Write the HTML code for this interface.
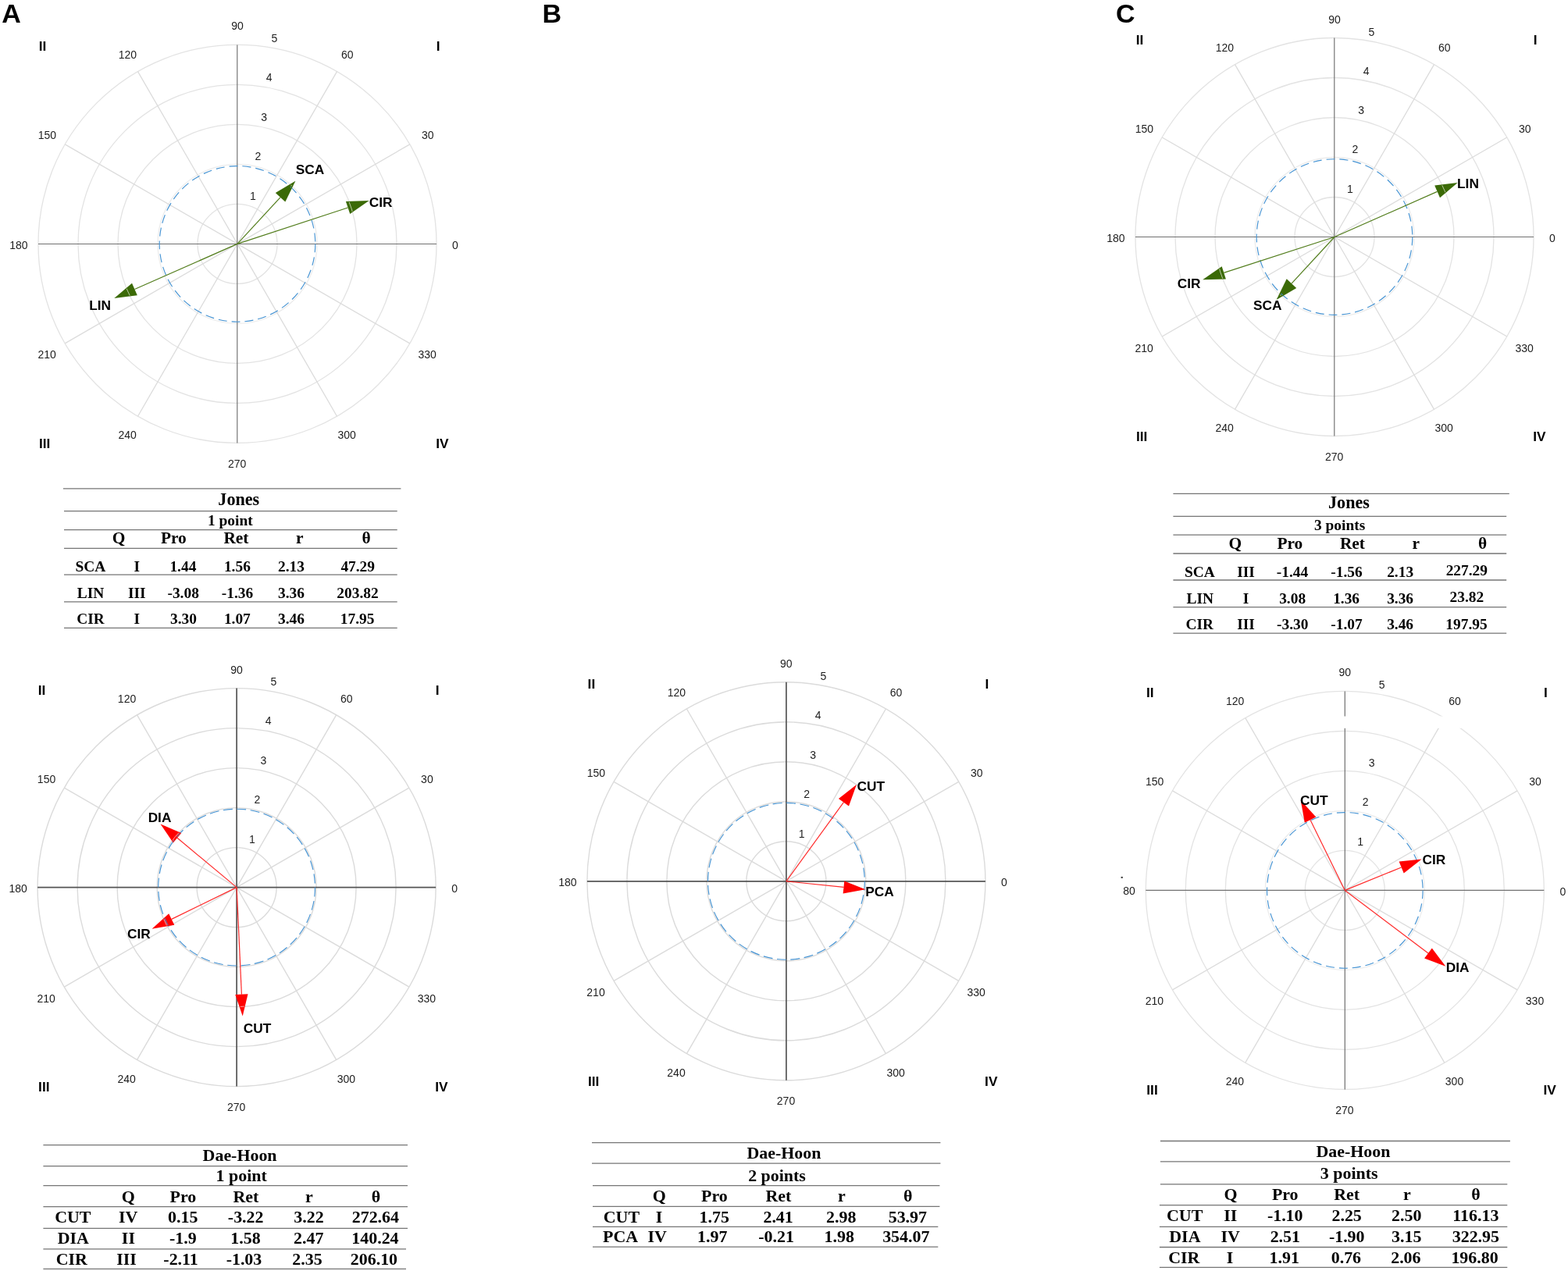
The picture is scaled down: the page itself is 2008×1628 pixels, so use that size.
<!DOCTYPE html>
<html lang="en"><head><meta charset="utf-8"><title>Polar coordinate maps</title>
<style>html,body{margin:0;padding:0;background:#fff}body{width:2008px;height:1628px;overflow:hidden}svg{display:block}.sa{font-family:"Liberation Sans", Arial, Helvetica, sans-serif}.se{font-family:"Liberation Serif", "Times New Roman", Times, serif}</style></head><body>
<svg width="2008" height="1628" viewBox="0 0 2008 1628">
<rect width="2008" height="1628" fill="#fff"/>
<text class="sa" x="2.15" y="29.00" font-size="34" font-weight="bold" fill="#000">A</text>
<text class="sa" x="694.56" y="28.90" font-size="34" font-weight="bold" fill="#000">B</text>
<text class="sa" x="1428.99" y="28.90" font-size="34" font-weight="bold" fill="#000">C</text>
<g>
<circle cx="304.0" cy="312.4" r="51.0" fill="none" stroke="#e3e3e3" stroke-width="1.3"/>
<circle cx="304.0" cy="312.4" r="102.0" fill="none" stroke="#ececec" stroke-width="1.3"/>
<circle cx="304.0" cy="312.4" r="153.0" fill="none" stroke="#e3e3e3" stroke-width="1.3"/>
<circle cx="304.0" cy="312.4" r="204.0" fill="none" stroke="#e3e3e3" stroke-width="1.3"/>
<circle cx="304.0" cy="312.4" r="255.0" fill="none" stroke="#e3e3e3" stroke-width="1.3"/>
<line x1="304.0" y1="312.4" x2="524.8" y2="184.9" stroke="#dcdcdc" stroke-width="1.3"/>
<line x1="304.0" y1="312.4" x2="431.5" y2="91.6" stroke="#dcdcdc" stroke-width="1.3"/>
<line x1="304.0" y1="312.4" x2="176.5" y2="91.6" stroke="#dcdcdc" stroke-width="1.3"/>
<line x1="304.0" y1="312.4" x2="83.2" y2="184.9" stroke="#dcdcdc" stroke-width="1.3"/>
<line x1="304.0" y1="312.4" x2="83.2" y2="439.9" stroke="#dcdcdc" stroke-width="1.3"/>
<line x1="304.0" y1="312.4" x2="176.5" y2="533.2" stroke="#dcdcdc" stroke-width="1.3"/>
<line x1="304.0" y1="312.4" x2="431.5" y2="533.2" stroke="#dcdcdc" stroke-width="1.3"/>
<line x1="304.0" y1="312.4" x2="524.8" y2="439.9" stroke="#dcdcdc" stroke-width="1.3"/>
<line x1="49.0" y1="312.5" x2="559.0" y2="312.5" stroke="#707070" stroke-width="1.1"/>
<line x1="303.8" y1="57.39999999999998" x2="303.8" y2="567.4" stroke="#707070" stroke-width="1.15"/>
<circle cx="304.0" cy="312.4" r="99.8" fill="none" stroke="#4593d3" stroke-width="1.15" stroke-dasharray="11 6"/>
<text class="sa" x="296.16" y="37.92" font-size="14" fill="#1c1c1c">90</text>
<text class="sa" x="436.93" y="74.82" font-size="14" fill="#1c1c1c">60</text>
<text class="sa" x="151.76" y="74.82" font-size="14" fill="#1c1c1c">120</text>
<text class="sa" x="540.02" y="177.92" font-size="14" fill="#1c1c1c">30</text>
<text class="sa" x="48.76" y="177.92" font-size="14" fill="#1c1c1c">150</text>
<text class="sa" x="579.11" y="318.82" font-size="14" fill="#1c1c1c">0</text>
<text class="sa" x="12.31" y="318.82" font-size="14" fill="#1c1c1c">180</text>
<text class="sa" x="48.44" y="459.42" font-size="14" fill="#1c1c1c">210</text>
<text class="sa" x="535.53" y="459.42" font-size="14" fill="#1c1c1c">330</text>
<text class="sa" x="151.44" y="562.32" font-size="14" fill="#1c1c1c">240</text>
<text class="sa" x="432.53" y="562.32" font-size="14" fill="#1c1c1c">300</text>
<text class="sa" x="291.94" y="598.82" font-size="14" fill="#1c1c1c">270</text>
<text class="sa" x="347.52" y="54.15" font-size="14" fill="#1c1c1c">5</text>
<text class="sa" x="340.75" y="103.92" font-size="14" fill="#1c1c1c">4</text>
<text class="sa" x="334.35" y="154.82" font-size="14" fill="#1c1c1c">3</text>
<text class="sa" x="326.41" y="204.59" font-size="14" fill="#1c1c1c">2</text>
<text class="sa" x="319.92" y="255.62" font-size="14" fill="#1c1c1c">1</text>
<text class="sa" x="49.69" y="64.95" font-size="17.3" font-weight="bold" fill="#000">II</text>
<text class="sa" x="558.70" y="64.95" font-size="17.3" font-weight="bold" fill="#000">I</text>
<text class="sa" x="49.99" y="574.15" font-size="17.3" font-weight="bold" fill="#000">III</text>
<text class="sa" x="558.21" y="574.15" font-size="17.3" font-weight="bold" fill="#000">IV</text>
<line x1="304.0" y1="312.4" x2="359.0" y2="252.8" stroke="#527d1c" stroke-width="1.2"/>
<polygon points="378.4,231.8 365.3,258.6 352.8,247.0" fill="#3b6a06"/>
<clipPath id="ah1"><polygon points="375.6,234.8 364.9,257.4 353.9,247.3"/></clipPath>
<g clip-path="url(#ah1)" fill="none">
<circle cx="304.0" cy="312.4" r="102.0" stroke="#fff" stroke-opacity="0.72" stroke-width="0.9"/>
<circle cx="304.0" cy="312.4" r="99.8" stroke="#4593d3" stroke-opacity="0.8" stroke-width="1.15" stroke-dasharray="11 6"/>
</g>
<text class="sa" x="378.72" y="223.36" font-size="17.3" font-weight="bold" fill="#000">SCA</text>
<line x1="304.0" y1="312.4" x2="445.5" y2="266.0" stroke="#527d1c" stroke-width="1.2"/>
<polygon points="472.6,257.1 448.2,274.1 442.9,257.9" fill="#3b6a06"/>
<clipPath id="ah2"><polygon points="468.8,258.4 448.5,272.9 443.8,258.7"/></clipPath>
<g clip-path="url(#ah2)" fill="none">
<circle cx="304.0" cy="312.4" r="153.0" stroke="#fff" stroke-opacity="0.72" stroke-width="0.9"/>
<circle cx="304.0" cy="312.4" r="204.0" stroke="#fff" stroke-opacity="0.72" stroke-width="0.9"/>
</g>
<text class="sa" x="472.83" y="264.96" font-size="17.3" font-weight="bold" fill="#000">CIR</text>
<line x1="304.0" y1="312.4" x2="172.4" y2="370.5" stroke="#527d1c" stroke-width="1.2"/>
<polygon points="146.3,382.0 169.0,362.7 175.8,378.3" fill="#3b6a06"/>
<clipPath id="ah3"><polygon points="150.0,380.4 168.8,363.9 174.9,377.6"/></clipPath>
<g clip-path="url(#ah3)" fill="none">
<circle cx="304.0" cy="312.4" r="153.0" stroke="#fff" stroke-opacity="0.72" stroke-width="0.9"/>
</g>
<text class="sa" x="114.17" y="397.05" font-size="17.3" font-weight="bold" fill="#000">LIN</text>
</g>
<g>
<circle cx="303.1" cy="1136.6" r="51.0" fill="none" stroke="#dbdbdb" stroke-width="1.4"/>
<circle cx="303.1" cy="1136.6" r="102.0" fill="none" stroke="#dbdbdb" stroke-width="1.4"/>
<circle cx="303.1" cy="1136.6" r="153.0" fill="none" stroke="#dbdbdb" stroke-width="1.4"/>
<circle cx="303.1" cy="1136.6" r="204.0" fill="none" stroke="#dbdbdb" stroke-width="1.4"/>
<circle cx="303.1" cy="1136.6" r="255.0" fill="none" stroke="#dbdbdb" stroke-width="1.4"/>
<line x1="303.1" y1="1136.6" x2="523.9" y2="1009.1" stroke="#dbdbdb" stroke-width="1.4"/>
<line x1="303.1" y1="1136.6" x2="430.6" y2="915.8" stroke="#dbdbdb" stroke-width="1.4"/>
<line x1="303.1" y1="1136.6" x2="175.6" y2="915.8" stroke="#dbdbdb" stroke-width="1.4"/>
<line x1="303.1" y1="1136.6" x2="82.3" y2="1009.1" stroke="#dbdbdb" stroke-width="1.4"/>
<line x1="303.1" y1="1136.6" x2="82.3" y2="1264.1" stroke="#dbdbdb" stroke-width="1.4"/>
<line x1="303.1" y1="1136.6" x2="175.6" y2="1357.4" stroke="#dbdbdb" stroke-width="1.4"/>
<line x1="303.1" y1="1136.6" x2="430.6" y2="1357.4" stroke="#dbdbdb" stroke-width="1.4"/>
<line x1="303.1" y1="1136.6" x2="523.9" y2="1264.1" stroke="#dbdbdb" stroke-width="1.4"/>
<line x1="48.10000000000002" y1="1136.6" x2="558.1" y2="1136.6" stroke="#555" stroke-width="1.7"/>
<line x1="303.1" y1="881.5999999999999" x2="303.1" y2="1391.6" stroke="#555" stroke-width="1.7"/>
<circle cx="303.1" cy="1136.6" r="100.4" fill="none" stroke="#4593d3" stroke-width="1.15" stroke-dasharray="12 5.5"/>
<text class="sa" x="295.26" y="863.22" font-size="14" fill="#1c1c1c">90</text>
<text class="sa" x="436.03" y="900.12" font-size="14" fill="#1c1c1c">60</text>
<text class="sa" x="150.86" y="900.12" font-size="14" fill="#1c1c1c">120</text>
<text class="sa" x="539.12" y="1003.22" font-size="14" fill="#1c1c1c">30</text>
<text class="sa" x="47.86" y="1003.22" font-size="14" fill="#1c1c1c">150</text>
<text class="sa" x="578.21" y="1143.02" font-size="14" fill="#1c1c1c">0</text>
<text class="sa" x="11.41" y="1143.02" font-size="14" fill="#1c1c1c">180</text>
<text class="sa" x="47.54" y="1283.62" font-size="14" fill="#1c1c1c">210</text>
<text class="sa" x="534.63" y="1283.62" font-size="14" fill="#1c1c1c">330</text>
<text class="sa" x="150.54" y="1386.52" font-size="14" fill="#1c1c1c">240</text>
<text class="sa" x="431.63" y="1386.52" font-size="14" fill="#1c1c1c">300</text>
<text class="sa" x="291.04" y="1423.02" font-size="14" fill="#1c1c1c">270</text>
<text class="sa" x="346.62" y="878.45" font-size="14" fill="#1c1c1c">5</text>
<text class="sa" x="339.85" y="928.22" font-size="14" fill="#1c1c1c">4</text>
<text class="sa" x="333.45" y="979.12" font-size="14" fill="#1c1c1c">3</text>
<text class="sa" x="325.51" y="1028.89" font-size="14" fill="#1c1c1c">2</text>
<text class="sa" x="319.02" y="1079.92" font-size="14" fill="#1c1c1c">1</text>
<text class="sa" x="48.79" y="890.25" font-size="17.3" font-weight="bold" fill="#000">II</text>
<text class="sa" x="557.80" y="890.25" font-size="17.3" font-weight="bold" fill="#000">I</text>
<text class="sa" x="49.09" y="1398.35" font-size="17.3" font-weight="bold" fill="#000">III</text>
<text class="sa" x="557.31" y="1398.35" font-size="17.3" font-weight="bold" fill="#000">IV</text>
<line x1="303.1" y1="1136.6" x2="309.4" y2="1273.7" stroke="#ff2a2a" stroke-width="1.2"/>
<polygon points="310.7,1301.6 301.3,1274.0 317.5,1273.3" fill="#ff0000"/>
<clipPath id="ah4"><polygon points="310.5,1297.6 302.4,1274.6 316.5,1273.9"/></clipPath>
<g clip-path="url(#ah4)" fill="none">
<circle cx="303.1" cy="1136.6" r="153.0" stroke="#fff" stroke-opacity="0.72" stroke-width="0.9"/>
</g>
<text class="sa" x="311.76" y="1322.66" font-size="17.3" font-weight="bold" fill="#000">CUT</text>
<line x1="303.1" y1="1136.6" x2="227.0" y2="1073.3" stroke="#ff2a2a" stroke-width="1.2"/>
<polygon points="205.5,1055.4 232.2,1067.1 221.8,1079.5" fill="#ff0000"/>
<clipPath id="ah5"><polygon points="208.6,1058.0 231.1,1067.5 222.0,1078.4"/></clipPath>
<g clip-path="url(#ah5)" fill="none">
<circle cx="303.1" cy="1136.6" r="102.0" stroke="#fff" stroke-opacity="0.72" stroke-width="0.9"/>
<circle cx="303.1" cy="1136.6" r="153.0" stroke="#fff" stroke-opacity="0.72" stroke-width="0.9"/>
<circle cx="303.1" cy="1136.6" r="100.4" stroke="#4593d3" stroke-opacity="0.8" stroke-width="1.15" stroke-dasharray="12 5.5"/>
</g>
<text class="sa" x="189.65" y="1052.85" font-size="17.3" font-weight="bold" fill="#000">DIA</text>
<line x1="303.1" y1="1136.6" x2="219.7" y2="1177.4" stroke="#ff2a2a" stroke-width="1.2"/>
<polygon points="194.6,1189.8 216.2,1170.2 223.3,1184.7" fill="#ff0000"/>
<clipPath id="ah6"><polygon points="198.2,1188.0 216.1,1171.3 222.3,1184.1"/></clipPath>
<g clip-path="url(#ah6)" fill="none">
<circle cx="303.1" cy="1136.6" r="102.0" stroke="#fff" stroke-opacity="0.72" stroke-width="0.9"/>
<circle cx="303.1" cy="1136.6" r="100.4" stroke="#4593d3" stroke-opacity="0.8" stroke-width="1.15" stroke-dasharray="12 5.5"/>
</g>
<text class="sa" x="163.03" y="1202.26" font-size="17.3" font-weight="bold" fill="#000">CIR</text>
</g>
<g>
<circle cx="1006.9" cy="1128.8" r="51.0" fill="none" stroke="#dbdbdb" stroke-width="1.4"/>
<circle cx="1006.9" cy="1128.8" r="102.0" fill="none" stroke="#dbdbdb" stroke-width="1.4"/>
<circle cx="1006.9" cy="1128.8" r="153.0" fill="none" stroke="#dbdbdb" stroke-width="1.4"/>
<circle cx="1006.9" cy="1128.8" r="204.0" fill="none" stroke="#dbdbdb" stroke-width="1.4"/>
<circle cx="1006.9" cy="1128.8" r="255.0" fill="none" stroke="#dbdbdb" stroke-width="1.4"/>
<line x1="1006.9" y1="1128.8" x2="1227.7" y2="1001.3" stroke="#dbdbdb" stroke-width="1.4"/>
<line x1="1006.9" y1="1128.8" x2="1134.4" y2="908.0" stroke="#dbdbdb" stroke-width="1.4"/>
<line x1="1006.9" y1="1128.8" x2="879.4" y2="908.0" stroke="#dbdbdb" stroke-width="1.4"/>
<line x1="1006.9" y1="1128.8" x2="786.1" y2="1001.3" stroke="#dbdbdb" stroke-width="1.4"/>
<line x1="1006.9" y1="1128.8" x2="786.1" y2="1256.3" stroke="#dbdbdb" stroke-width="1.4"/>
<line x1="1006.9" y1="1128.8" x2="879.4" y2="1349.6" stroke="#dbdbdb" stroke-width="1.4"/>
<line x1="1006.9" y1="1128.8" x2="1134.4" y2="1349.6" stroke="#dbdbdb" stroke-width="1.4"/>
<line x1="1006.9" y1="1128.8" x2="1227.7" y2="1256.3" stroke="#dbdbdb" stroke-width="1.4"/>
<line x1="751.9" y1="1128.8" x2="1261.9" y2="1128.8" stroke="#555" stroke-width="1.7"/>
<line x1="1006.9" y1="873.8" x2="1006.9" y2="1383.8" stroke="#555" stroke-width="1.7"/>
<circle cx="1006.9" cy="1128.8" r="100.4" fill="none" stroke="#4593d3" stroke-width="1.15" stroke-dasharray="12 5.5"/>
<text class="sa" x="999.06" y="855.42" font-size="14" fill="#1c1c1c">90</text>
<text class="sa" x="1139.83" y="892.32" font-size="14" fill="#1c1c1c">60</text>
<text class="sa" x="854.66" y="892.32" font-size="14" fill="#1c1c1c">120</text>
<text class="sa" x="1242.92" y="995.42" font-size="14" fill="#1c1c1c">30</text>
<text class="sa" x="751.66" y="995.42" font-size="14" fill="#1c1c1c">150</text>
<text class="sa" x="1282.01" y="1135.22" font-size="14" fill="#1c1c1c">0</text>
<text class="sa" x="715.21" y="1135.22" font-size="14" fill="#1c1c1c">180</text>
<text class="sa" x="751.34" y="1275.82" font-size="14" fill="#1c1c1c">210</text>
<text class="sa" x="1238.43" y="1275.82" font-size="14" fill="#1c1c1c">330</text>
<text class="sa" x="854.34" y="1378.72" font-size="14" fill="#1c1c1c">240</text>
<text class="sa" x="1135.43" y="1378.72" font-size="14" fill="#1c1c1c">300</text>
<text class="sa" x="994.84" y="1415.22" font-size="14" fill="#1c1c1c">270</text>
<text class="sa" x="1050.42" y="871.15" font-size="14" fill="#1c1c1c">5</text>
<text class="sa" x="1043.65" y="920.92" font-size="14" fill="#1c1c1c">4</text>
<text class="sa" x="1037.25" y="971.82" font-size="14" fill="#1c1c1c">3</text>
<text class="sa" x="1029.31" y="1021.59" font-size="14" fill="#1c1c1c">2</text>
<text class="sa" x="1022.82" y="1072.62" font-size="14" fill="#1c1c1c">1</text>
<text class="sa" x="752.59" y="882.45" font-size="17.3" font-weight="bold" fill="#000">II</text>
<text class="sa" x="1261.60" y="882.45" font-size="17.3" font-weight="bold" fill="#000">I</text>
<text class="sa" x="752.89" y="1390.55" font-size="17.3" font-weight="bold" fill="#000">III</text>
<text class="sa" x="1261.11" y="1390.55" font-size="17.3" font-weight="bold" fill="#000">IV</text>
<line x1="1006.9" y1="1128.8" x2="1080.4" y2="1027.7" stroke="#ff2a2a" stroke-width="1.2"/>
<polygon points="1096.9,1005.1 1087.0,1032.5 1073.9,1023.0" fill="#ff0000"/>
<text class="sa" x="1097.46" y="1012.56" font-size="17.3" font-weight="bold" fill="#000">CUT</text>
<line x1="1006.9" y1="1128.8" x2="1080.5" y2="1136.4" stroke="#ff2a2a" stroke-width="1.2"/>
<polygon points="1108.3,1139.3 1079.6,1144.5 1081.3,1128.4" fill="#ff0000"/>
<text class="sa" x="1108.29" y="1148.16" font-size="17.3" font-weight="bold" fill="#000">PCA</text>
</g>
<g>
<circle cx="1709.0" cy="303.5" r="51.0" fill="none" stroke="#e3e3e3" stroke-width="1.3"/>
<circle cx="1709.0" cy="303.5" r="102.0" fill="none" stroke="#ececec" stroke-width="1.3"/>
<circle cx="1709.0" cy="303.5" r="153.0" fill="none" stroke="#e3e3e3" stroke-width="1.3"/>
<circle cx="1709.0" cy="303.5" r="204.0" fill="none" stroke="#e3e3e3" stroke-width="1.3"/>
<circle cx="1709.0" cy="303.5" r="255.0" fill="none" stroke="#e3e3e3" stroke-width="1.3"/>
<line x1="1709.0" y1="303.5" x2="1929.8" y2="176.0" stroke="#dcdcdc" stroke-width="1.3"/>
<line x1="1709.0" y1="303.5" x2="1836.5" y2="82.7" stroke="#dcdcdc" stroke-width="1.3"/>
<line x1="1709.0" y1="303.5" x2="1581.5" y2="82.7" stroke="#dcdcdc" stroke-width="1.3"/>
<line x1="1709.0" y1="303.5" x2="1488.2" y2="176.0" stroke="#dcdcdc" stroke-width="1.3"/>
<line x1="1709.0" y1="303.5" x2="1488.2" y2="431.0" stroke="#dcdcdc" stroke-width="1.3"/>
<line x1="1709.0" y1="303.5" x2="1581.5" y2="524.3" stroke="#dcdcdc" stroke-width="1.3"/>
<line x1="1709.0" y1="303.5" x2="1836.5" y2="524.3" stroke="#dcdcdc" stroke-width="1.3"/>
<line x1="1709.0" y1="303.5" x2="1929.8" y2="431.0" stroke="#dcdcdc" stroke-width="1.3"/>
<line x1="1454.0" y1="303.5" x2="1964.0" y2="303.5" stroke="#707070" stroke-width="1.1"/>
<line x1="1708.8" y1="48.5" x2="1708.8" y2="558.5" stroke="#707070" stroke-width="1.15"/>
<circle cx="1709.0" cy="303.5" r="99.8" fill="none" stroke="#4593d3" stroke-width="1.15" stroke-dasharray="11 6"/>
<text class="sa" x="1701.16" y="29.52" font-size="14" fill="#1c1c1c">90</text>
<text class="sa" x="1841.93" y="66.42" font-size="14" fill="#1c1c1c">60</text>
<text class="sa" x="1556.76" y="66.42" font-size="14" fill="#1c1c1c">120</text>
<text class="sa" x="1945.02" y="169.52" font-size="14" fill="#1c1c1c">30</text>
<text class="sa" x="1453.76" y="169.52" font-size="14" fill="#1c1c1c">150</text>
<text class="sa" x="1984.11" y="309.92" font-size="14" fill="#1c1c1c">0</text>
<text class="sa" x="1417.31" y="309.92" font-size="14" fill="#1c1c1c">180</text>
<text class="sa" x="1453.44" y="450.52" font-size="14" fill="#1c1c1c">210</text>
<text class="sa" x="1940.53" y="450.52" font-size="14" fill="#1c1c1c">330</text>
<text class="sa" x="1556.44" y="553.42" font-size="14" fill="#1c1c1c">240</text>
<text class="sa" x="1837.53" y="553.42" font-size="14" fill="#1c1c1c">300</text>
<text class="sa" x="1696.94" y="589.92" font-size="14" fill="#1c1c1c">270</text>
<text class="sa" x="1752.52" y="45.75" font-size="14" fill="#1c1c1c">5</text>
<text class="sa" x="1745.75" y="95.52" font-size="14" fill="#1c1c1c">4</text>
<text class="sa" x="1739.35" y="146.42" font-size="14" fill="#1c1c1c">3</text>
<text class="sa" x="1731.41" y="196.19" font-size="14" fill="#1c1c1c">2</text>
<text class="sa" x="1724.92" y="247.22" font-size="14" fill="#1c1c1c">1</text>
<text class="sa" x="1454.69" y="56.55" font-size="17.3" font-weight="bold" fill="#000">II</text>
<text class="sa" x="1963.70" y="56.55" font-size="17.3" font-weight="bold" fill="#000">I</text>
<text class="sa" x="1454.99" y="565.25" font-size="17.3" font-weight="bold" fill="#000">III</text>
<text class="sa" x="1963.21" y="565.25" font-size="17.3" font-weight="bold" fill="#000">IV</text>
<line x1="1709.0" y1="303.5" x2="1840.6" y2="245.4" stroke="#527d1c" stroke-width="1.2"/>
<polygon points="1866.7,233.9 1844.0,253.2 1837.2,237.6" fill="#3b6a06"/>
<clipPath id="ah7"><polygon points="1863.0,235.5 1844.2,252.0 1838.1,238.3"/></clipPath>
<g clip-path="url(#ah7)" fill="none">
<circle cx="1709.0" cy="303.5" r="153.0" stroke="#fff" stroke-opacity="0.72" stroke-width="0.9"/>
</g>
<text class="sa" x="1866.07" y="241.25" font-size="17.3" font-weight="bold" fill="#000">LIN</text>
<line x1="1709.0" y1="303.5" x2="1567.3" y2="349.4" stroke="#527d1c" stroke-width="1.2"/>
<polygon points="1540.2,358.2 1564.7,341.3 1569.9,357.5" fill="#3b6a06"/>
<clipPath id="ah8"><polygon points="1544.0,357.0 1564.4,342.5 1569.0,356.7"/></clipPath>
<g clip-path="url(#ah8)" fill="none">
<circle cx="1709.0" cy="303.5" r="153.0" stroke="#fff" stroke-opacity="0.72" stroke-width="0.9"/>
<circle cx="1709.0" cy="303.5" r="204.0" stroke="#fff" stroke-opacity="0.72" stroke-width="0.9"/>
</g>
<text class="sa" x="1507.73" y="369.26" font-size="17.3" font-weight="bold" fill="#000">CIR</text>
<line x1="1709.0" y1="303.5" x2="1654.0" y2="363.1" stroke="#527d1c" stroke-width="1.2"/>
<polygon points="1634.6,384.1 1647.7,357.3 1660.2,368.9" fill="#3b6a06"/>
<clipPath id="ah9"><polygon points="1637.4,381.1 1648.1,358.5 1659.1,368.6"/></clipPath>
<g clip-path="url(#ah9)" fill="none">
<circle cx="1709.0" cy="303.5" r="102.0" stroke="#fff" stroke-opacity="0.72" stroke-width="0.9"/>
<circle cx="1709.0" cy="303.5" r="99.8" stroke="#4593d3" stroke-opacity="0.8" stroke-width="1.15" stroke-dasharray="11 6"/>
</g>
<text class="sa" x="1605.02" y="397.06" font-size="17.3" font-weight="bold" fill="#000">SCA</text>
</g>
<g>
<circle cx="1722.3" cy="1140.4" r="51.0" fill="none" stroke="#e3e3e3" stroke-width="1.3"/>
<circle cx="1722.3" cy="1140.4" r="102.0" fill="none" stroke="#ececec" stroke-width="1.3"/>
<circle cx="1722.3" cy="1140.4" r="153.0" fill="none" stroke="#e3e3e3" stroke-width="1.3"/>
<circle cx="1722.3" cy="1140.4" r="204.0" fill="none" stroke="#e3e3e3" stroke-width="1.3"/>
<circle cx="1722.3" cy="1140.4" r="255.0" fill="none" stroke="#e3e3e3" stroke-width="1.3"/>
<line x1="1722.3" y1="1140.4" x2="1943.1" y2="1012.9" stroke="#dcdcdc" stroke-width="1.3"/>
<line x1="1722.3" y1="1140.4" x2="1849.8" y2="919.6" stroke="#dcdcdc" stroke-width="1.3"/>
<line x1="1722.3" y1="1140.4" x2="1594.8" y2="919.6" stroke="#dcdcdc" stroke-width="1.3"/>
<line x1="1722.3" y1="1140.4" x2="1501.5" y2="1012.9" stroke="#dcdcdc" stroke-width="1.3"/>
<line x1="1722.3" y1="1140.4" x2="1501.5" y2="1267.9" stroke="#dcdcdc" stroke-width="1.3"/>
<line x1="1722.3" y1="1140.4" x2="1594.8" y2="1361.2" stroke="#dcdcdc" stroke-width="1.3"/>
<line x1="1722.3" y1="1140.4" x2="1849.8" y2="1361.2" stroke="#dcdcdc" stroke-width="1.3"/>
<line x1="1722.3" y1="1140.4" x2="1943.1" y2="1267.9" stroke="#dcdcdc" stroke-width="1.3"/>
<line x1="1467.3" y1="1140.4" x2="1977.3" y2="1140.4" stroke="#707070" stroke-width="1.2"/>
<line x1="1722.3" y1="885.4000000000001" x2="1722.3" y2="1395.4" stroke="#707070" stroke-width="1.2"/>
<circle cx="1722.3" cy="1140.4" r="99.8" fill="none" stroke="#4593d3" stroke-width="1.15" stroke-dasharray="11 6"/>
<rect x="1697.3" y="917.5" width="174" height="15.3" fill="#fff"/>
<text class="sa" x="1714.46" y="866.22" font-size="14" fill="#1c1c1c">90</text>
<text class="sa" x="1855.23" y="902.82" font-size="14" fill="#1c1c1c">60</text>
<text class="sa" x="1570.06" y="902.82" font-size="14" fill="#1c1c1c">120</text>
<text class="sa" x="1958.32" y="1005.92" font-size="14" fill="#1c1c1c">30</text>
<text class="sa" x="1467.06" y="1005.92" font-size="14" fill="#1c1c1c">150</text>
<text class="sa" x="1997.41" y="1146.82" font-size="14" fill="#1c1c1c">0</text>
<text class="sa" x="1466.74" y="1287.42" font-size="14" fill="#1c1c1c">210</text>
<text class="sa" x="1953.83" y="1287.42" font-size="14" fill="#1c1c1c">330</text>
<text class="sa" x="1569.74" y="1390.32" font-size="14" fill="#1c1c1c">240</text>
<text class="sa" x="1850.83" y="1390.32" font-size="14" fill="#1c1c1c">300</text>
<text class="sa" x="1710.24" y="1426.82" font-size="14" fill="#1c1c1c">270</text>
<text class="sa" x="1765.82" y="881.75" font-size="14" fill="#1c1c1c">5</text>
<text class="sa" x="1752.65" y="982.42" font-size="14" fill="#1c1c1c">3</text>
<text class="sa" x="1744.71" y="1031.89" font-size="14" fill="#1c1c1c">2</text>
<text class="sa" x="1738.22" y="1082.92" font-size="14" fill="#1c1c1c">1</text>
<text class="sa" x="1467.99" y="892.95" font-size="17.3" font-weight="bold" fill="#000">II</text>
<text class="sa" x="1977.00" y="892.95" font-size="17.3" font-weight="bold" fill="#000">I</text>
<text class="sa" x="1468.29" y="1402.15" font-size="17.3" font-weight="bold" fill="#000">III</text>
<text class="sa" x="1976.51" y="1402.15" font-size="17.3" font-weight="bold" fill="#000">IV</text>
<line x1="1722.3" y1="1140.4" x2="1678.0" y2="1050.2" stroke="#ff2a2a" stroke-width="1.2"/>
<polygon points="1665.7,1025.0 1685.3,1046.6 1670.8,1053.7" fill="#ff0000"/>
<text class="sa" x="1664.96" y="1031.46" font-size="17.3" font-weight="bold" fill="#000">CUT</text>
<line x1="1722.3" y1="1140.4" x2="1829.0" y2="1220.9" stroke="#ff2a2a" stroke-width="1.2"/>
<polygon points="1851.3,1237.8 1824.1,1227.4 1833.8,1214.5" fill="#ff0000"/>
<text class="sa" x="1851.75" y="1245.45" font-size="17.3" font-weight="bold" fill="#000">DIA</text>
<line x1="1722.3" y1="1140.4" x2="1794.6" y2="1111.0" stroke="#ff2a2a" stroke-width="1.2"/>
<polygon points="1820.6,1100.5 1797.7,1118.5 1791.6,1103.5" fill="#ff0000"/>
<text class="sa" x="1821.53" y="1107.46" font-size="17.3" font-weight="bold" fill="#000">CIR</text>
</g>
<text class="sa" x="1438.18" y="1146.22" font-size="14" fill="#1c1c1c">80</text>
<rect x="1435.6" y="1122.9" width="2.2" height="2" fill="#3a3a3a"/>
<line x1="80.9" y1="625.9" x2="513.4" y2="625.9" stroke="#757575" stroke-width="1.3"/>
<line x1="82.0" y1="654.6" x2="508.7" y2="654.6" stroke="#757575" stroke-width="1.3"/>
<line x1="82.0" y1="678.7" x2="508.7" y2="678.7" stroke="#757575" stroke-width="1.3"/>
<line x1="82.0" y1="702.3" x2="508.7" y2="702.3" stroke="#757575" stroke-width="1.3"/>
<line x1="82.0" y1="736.2" x2="508.7" y2="736.2" stroke="#757575" stroke-width="1.3"/>
<line x1="82.0" y1="770.9" x2="508.7" y2="770.9" stroke="#757575" stroke-width="1.3"/>
<line x1="82.0" y1="804.3" x2="508.7" y2="804.3" stroke="#757575" stroke-width="1.3"/>
<text class="se" x="279.37" y="646.60" font-size="22.11" font-weight="bold" fill="#000">Jones</text>
<text class="se" x="266.03" y="673.30" font-size="19.4" font-weight="bold" fill="#000">1 point</text>
<text class="se" x="143.72" y="696.30" font-size="21.41" font-weight="bold" fill="#000">Q</text>
<text class="se" x="205.88" y="696.30" font-size="21.41" font-weight="bold" fill="#000">Pro</text>
<text class="se" x="286.42" y="696.30" font-size="21.41" font-weight="bold" fill="#000">Ret</text>
<text class="se" x="379.09" y="696.30" font-size="21.41" font-weight="bold" fill="#000">r</text>
<text class="se" x="463.52" y="696.30" font-size="21.41" font-weight="bold" fill="#000">θ</text>
<text class="se" x="96.55" y="732.10" font-size="19.4" font-weight="bold" fill="#000">SCA</text>
<text class="se" x="171.43" y="732.10" font-size="19.4" font-weight="bold" fill="#000">I</text>
<text class="se" x="217.43" y="732.10" font-size="19.4" font-weight="bold" fill="#000">1.44</text>
<text class="se" x="286.93" y="732.10" font-size="19.4" font-weight="bold" fill="#000">1.56</text>
<text class="se" x="355.95" y="732.10" font-size="19.4" font-weight="bold" fill="#000">2.13</text>
<text class="se" x="436.39" y="732.10" font-size="19.4" font-weight="bold" fill="#000">47.29</text>
<text class="se" x="98.81" y="766.00" font-size="19.4" font-weight="bold" fill="#000">LIN</text>
<text class="se" x="163.88" y="766.00" font-size="19.4" font-weight="bold" fill="#000">III</text>
<text class="se" x="214.46" y="766.00" font-size="19.4" font-weight="bold" fill="#000">-3.08</text>
<text class="se" x="283.82" y="766.00" font-size="19.4" font-weight="bold" fill="#000">-1.36</text>
<text class="se" x="355.94" y="766.00" font-size="19.4" font-weight="bold" fill="#000">3.36</text>
<text class="se" x="431.33" y="766.00" font-size="19.4" font-weight="bold" fill="#000">203.82</text>
<text class="se" x="98.26" y="799.40" font-size="19.4" font-weight="bold" fill="#000">CIR</text>
<text class="se" x="171.43" y="799.40" font-size="19.4" font-weight="bold" fill="#000">I</text>
<text class="se" x="218.03" y="799.40" font-size="19.4" font-weight="bold" fill="#000">3.30</text>
<text class="se" x="286.89" y="799.40" font-size="19.4" font-weight="bold" fill="#000">1.07</text>
<text class="se" x="355.94" y="799.40" font-size="19.4" font-weight="bold" fill="#000">3.46</text>
<text class="se" x="435.75" y="799.40" font-size="19.4" font-weight="bold" fill="#000">17.95</text>
<line x1="55.4" y1="1466.7" x2="522.0" y2="1466.7" stroke="#757575" stroke-width="1.3"/>
<line x1="55.4" y1="1493.6" x2="522.0" y2="1493.6" stroke="#757575" stroke-width="1.3"/>
<line x1="55.4" y1="1518.7" x2="522.0" y2="1518.7" stroke="#757575" stroke-width="1.3"/>
<line x1="55.4" y1="1545.7" x2="522.0" y2="1545.7" stroke="#757575" stroke-width="1.3"/>
<line x1="55.4" y1="1573.4" x2="522.0" y2="1573.4" stroke="#757575" stroke-width="1.3"/>
<line x1="55.4" y1="1599.8" x2="520.0" y2="1599.8" stroke="#757575" stroke-width="1.3"/>
<line x1="55.4" y1="1625.4" x2="520.0" y2="1625.4" stroke="#757575" stroke-width="1.3"/>
<text class="se" x="259.61" y="1486.60" font-size="21.91" font-weight="bold" fill="#000">Dae-Hoon</text>
<text class="se" x="276.60" y="1512.50" font-size="21.91" font-weight="bold" fill="#000">1 point</text>
<text class="se" x="155.83" y="1539.70" font-size="21.91" font-weight="bold" fill="#000">Q</text>
<text class="se" x="217.50" y="1539.70" font-size="21.91" font-weight="bold" fill="#000">Pro</text>
<text class="se" x="298.54" y="1539.70" font-size="21.91" font-weight="bold" fill="#000">Ret</text>
<text class="se" x="390.98" y="1539.70" font-size="21.91" font-weight="bold" fill="#000">r</text>
<text class="se" x="475.69" y="1539.70" font-size="21.91" font-weight="bold" fill="#000">θ</text>
<text class="se" x="70.20" y="1566.10" font-size="21.91" font-weight="bold" fill="#000">CUT</text>
<text class="se" x="151.98" y="1566.10" font-size="21.91" font-weight="bold" fill="#000">IV</text>
<text class="se" x="215.11" y="1566.10" font-size="21.91" font-weight="bold" fill="#000">0.15</text>
<text class="se" x="291.85" y="1566.10" font-size="21.91" font-weight="bold" fill="#000">-3.22</text>
<text class="se" x="376.29" y="1566.10" font-size="21.91" font-weight="bold" fill="#000">3.22</text>
<text class="se" x="450.72" y="1566.10" font-size="21.91" font-weight="bold" fill="#000">272.64</text>
<text class="se" x="73.70" y="1593.30" font-size="21.91" font-weight="bold" fill="#000">DIA</text>
<text class="se" x="155.87" y="1593.30" font-size="21.91" font-weight="bold" fill="#000">II</text>
<text class="se" x="216.95" y="1593.30" font-size="21.91" font-weight="bold" fill="#000">-1.9</text>
<text class="se" x="295.32" y="1593.30" font-size="21.91" font-weight="bold" fill="#000">1.58</text>
<text class="se" x="376.04" y="1593.30" font-size="21.91" font-weight="bold" fill="#000">2.47</text>
<text class="se" x="450.30" y="1593.30" font-size="21.91" font-weight="bold" fill="#000">140.24</text>
<text class="se" x="71.68" y="1619.70" font-size="21.91" font-weight="bold" fill="#000">CIR</text>
<text class="se" x="149.21" y="1619.70" font-size="21.91" font-weight="bold" fill="#000">III</text>
<text class="se" x="209.35" y="1619.70" font-size="21.91" font-weight="bold" fill="#000">-2.11</text>
<text class="se" x="289.65" y="1619.70" font-size="21.91" font-weight="bold" fill="#000">-1.03</text>
<text class="se" x="374.27" y="1619.70" font-size="21.91" font-weight="bold" fill="#000">2.35</text>
<text class="se" x="448.83" y="1619.70" font-size="21.91" font-weight="bold" fill="#000">206.10</text>
<line x1="758.0" y1="1463.6" x2="1204.4" y2="1463.6" stroke="#757575" stroke-width="1.3"/>
<line x1="758.0" y1="1490.2" x2="1204.4" y2="1490.2" stroke="#757575" stroke-width="1.3"/>
<line x1="759.0" y1="1518.7" x2="1203.4" y2="1518.7" stroke="#757575" stroke-width="1.3"/>
<line x1="759.0" y1="1545.4" x2="1203.4" y2="1545.4" stroke="#757575" stroke-width="1.3"/>
<line x1="759.0" y1="1571.3" x2="1201.3" y2="1571.3" stroke="#757575" stroke-width="1.3"/>
<line x1="759.0" y1="1597.2" x2="1201.3" y2="1597.2" stroke="#757575" stroke-width="1.3"/>
<text class="se" x="956.51" y="1484.00" font-size="21.91" font-weight="bold" fill="#000">Dae-Hoon</text>
<text class="se" x="958.17" y="1512.90" font-size="21.91" font-weight="bold" fill="#000">2 points</text>
<text class="se" x="835.63" y="1539.20" font-size="21.91" font-weight="bold" fill="#000">Q</text>
<text class="se" x="898.10" y="1539.20" font-size="21.91" font-weight="bold" fill="#000">Pro</text>
<text class="se" x="980.44" y="1539.20" font-size="21.91" font-weight="bold" fill="#000">Ret</text>
<text class="se" x="1072.88" y="1539.20" font-size="21.91" font-weight="bold" fill="#000">r</text>
<text class="se" x="1156.99" y="1539.20" font-size="21.91" font-weight="bold" fill="#000">θ</text>
<text class="se" x="772.80" y="1565.60" font-size="21.91" font-weight="bold" fill="#000">CUT</text>
<text class="se" x="839.74" y="1565.60" font-size="21.91" font-weight="bold" fill="#000">I</text>
<text class="se" x="895.55" y="1565.60" font-size="21.91" font-weight="bold" fill="#000">1.75</text>
<text class="se" x="977.44" y="1565.60" font-size="21.91" font-weight="bold" fill="#000">2.41</text>
<text class="se" x="1058.03" y="1565.60" font-size="21.91" font-weight="bold" fill="#000">2.98</text>
<text class="se" x="1137.68" y="1565.60" font-size="21.91" font-weight="bold" fill="#000">53.97</text>
<text class="se" x="772.08" y="1591.00" font-size="21.91" font-weight="bold" fill="#000">PCA</text>
<text class="se" x="829.48" y="1591.00" font-size="21.91" font-weight="bold" fill="#000">IV</text>
<text class="se" x="893.02" y="1591.00" font-size="21.91" font-weight="bold" fill="#000">1.97</text>
<text class="se" x="971.25" y="1591.00" font-size="21.91" font-weight="bold" fill="#000">-0.21</text>
<text class="se" x="1055.52" y="1591.00" font-size="21.91" font-weight="bold" fill="#000">1.98</text>
<text class="se" x="1130.13" y="1591.00" font-size="21.91" font-weight="bold" fill="#000">354.07</text>
<line x1="1502.4" y1="632.4" x2="1932.8" y2="632.4" stroke="#757575" stroke-width="1.3"/>
<line x1="1502.4" y1="661.4" x2="1929.2" y2="661.4" stroke="#757575" stroke-width="1.3"/>
<line x1="1502.4" y1="685.2" x2="1929.2" y2="685.2" stroke="#757575" stroke-width="1.3"/>
<line x1="1502.4" y1="709.0" x2="1929.2" y2="709.0" stroke="#757575" stroke-width="1.3"/>
<line x1="1502.4" y1="743.0" x2="1929.2" y2="743.0" stroke="#757575" stroke-width="1.3"/>
<line x1="1502.4" y1="777.7" x2="1929.2" y2="777.7" stroke="#757575" stroke-width="1.3"/>
<line x1="1502.4" y1="811.1" x2="1929.2" y2="811.1" stroke="#757575" stroke-width="1.3"/>
<text class="se" x="1701.07" y="651.00" font-size="22.11" font-weight="bold" fill="#000">Jones</text>
<text class="se" x="1683.06" y="679.00" font-size="19.4" font-weight="bold" fill="#000">3 points</text>
<text class="se" x="1573.52" y="702.80" font-size="21.41" font-weight="bold" fill="#000">Q</text>
<text class="se" x="1635.38" y="702.80" font-size="21.41" font-weight="bold" fill="#000">Pro</text>
<text class="se" x="1715.92" y="702.80" font-size="21.41" font-weight="bold" fill="#000">Ret</text>
<text class="se" x="1808.59" y="702.80" font-size="21.41" font-weight="bold" fill="#000">r</text>
<text class="se" x="1893.02" y="702.80" font-size="21.41" font-weight="bold" fill="#000">θ</text>
<text class="se" x="1516.95" y="738.50" font-size="19.4" font-weight="bold" fill="#000">SCA</text>
<text class="se" x="1584.28" y="738.50" font-size="19.4" font-weight="bold" fill="#000">III</text>
<text class="se" x="1634.82" y="738.50" font-size="19.4" font-weight="bold" fill="#000">-1.44</text>
<text class="se" x="1704.32" y="738.50" font-size="19.4" font-weight="bold" fill="#000">-1.56</text>
<text class="se" x="1776.15" y="738.50" font-size="19.4" font-weight="bold" fill="#000">2.13</text>
<text class="se" x="1851.67" y="737.30" font-size="19.4" font-weight="bold" fill="#000">227.29</text>
<text class="se" x="1519.51" y="772.50" font-size="19.4" font-weight="bold" fill="#000">LIN</text>
<text class="se" x="1591.83" y="772.50" font-size="19.4" font-weight="bold" fill="#000">I</text>
<text class="se" x="1638.18" y="772.50" font-size="19.4" font-weight="bold" fill="#000">3.08</text>
<text class="se" x="1707.13" y="772.50" font-size="19.4" font-weight="bold" fill="#000">1.36</text>
<text class="se" x="1776.14" y="772.50" font-size="19.4" font-weight="bold" fill="#000">3.36</text>
<text class="se" x="1856.58" y="771.30" font-size="19.4" font-weight="bold" fill="#000">23.82</text>
<text class="se" x="1518.46" y="806.10" font-size="19.4" font-weight="bold" fill="#000">CIR</text>
<text class="se" x="1584.28" y="806.10" font-size="19.4" font-weight="bold" fill="#000">III</text>
<text class="se" x="1635.01" y="806.10" font-size="19.4" font-weight="bold" fill="#000">-3.30</text>
<text class="se" x="1704.28" y="806.10" font-size="19.4" font-weight="bold" fill="#000">-1.07</text>
<text class="se" x="1776.14" y="806.10" font-size="19.4" font-weight="bold" fill="#000">3.46</text>
<text class="se" x="1851.30" y="806.10" font-size="19.4" font-weight="bold" fill="#000">197.95</text>
<line x1="1485.9" y1="1461.5" x2="1933.9" y2="1461.5" stroke="#757575" stroke-width="1.3"/>
<line x1="1485.9" y1="1487.9" x2="1933.9" y2="1487.9" stroke="#757575" stroke-width="1.3"/>
<line x1="1485.9" y1="1516.9" x2="1930.3" y2="1516.9" stroke="#757575" stroke-width="1.3"/>
<line x1="1484.9" y1="1543.6" x2="1930.3" y2="1543.6" stroke="#757575" stroke-width="1.3"/>
<line x1="1484.9" y1="1571.3" x2="1930.3" y2="1571.3" stroke="#757575" stroke-width="1.3"/>
<line x1="1484.9" y1="1597.5" x2="1930.3" y2="1597.5" stroke="#757575" stroke-width="1.3"/>
<line x1="1484.9" y1="1623.4" x2="1930.3" y2="1623.4" stroke="#757575" stroke-width="1.3"/>
<text class="se" x="1685.51" y="1482.00" font-size="21.91" font-weight="bold" fill="#000">Dae-Hoon</text>
<text class="se" x="1690.82" y="1510.00" font-size="21.91" font-weight="bold" fill="#000">3 points</text>
<text class="se" x="1567.43" y="1537.10" font-size="21.91" font-weight="bold" fill="#000">Q</text>
<text class="se" x="1628.90" y="1537.10" font-size="21.91" font-weight="bold" fill="#000">Pro</text>
<text class="se" x="1708.14" y="1537.10" font-size="21.91" font-weight="bold" fill="#000">Ret</text>
<text class="se" x="1796.88" y="1537.10" font-size="21.91" font-weight="bold" fill="#000">r</text>
<text class="se" x="1884.19" y="1537.10" font-size="21.91" font-weight="bold" fill="#000">θ</text>
<text class="se" x="1494.00" y="1563.80" font-size="21.91" font-weight="bold" fill="#000">CUT</text>
<text class="se" x="1567.27" y="1563.80" font-size="21.91" font-weight="bold" fill="#000">II</text>
<text class="se" x="1622.90" y="1563.80" font-size="21.91" font-weight="bold" fill="#000">-1.10</text>
<text class="se" x="1705.47" y="1563.80" font-size="21.91" font-weight="bold" fill="#000">2.25</text>
<text class="se" x="1782.09" y="1563.80" font-size="21.91" font-weight="bold" fill="#000">2.50</text>
<text class="se" x="1860.37" y="1563.80" font-size="21.91" font-weight="bold" fill="#000">116.13</text>
<text class="se" x="1497.30" y="1591.00" font-size="21.91" font-weight="bold" fill="#000">DIA</text>
<text class="se" x="1563.38" y="1591.00" font-size="21.91" font-weight="bold" fill="#000">IV</text>
<text class="se" x="1626.64" y="1591.00" font-size="21.91" font-weight="bold" fill="#000">2.51</text>
<text class="se" x="1701.90" y="1591.00" font-size="21.91" font-weight="bold" fill="#000">-1.90</text>
<text class="se" x="1782.12" y="1591.00" font-size="21.91" font-weight="bold" fill="#000">3.15</text>
<text class="se" x="1859.76" y="1591.00" font-size="21.91" font-weight="bold" fill="#000">322.95</text>
<text class="se" x="1496.28" y="1617.90" font-size="21.91" font-weight="bold" fill="#000">CIR</text>
<text class="se" x="1570.74" y="1617.90" font-size="21.91" font-weight="bold" fill="#000">I</text>
<text class="se" x="1625.52" y="1617.90" font-size="21.91" font-weight="bold" fill="#000">1.91</text>
<text class="se" x="1704.73" y="1617.90" font-size="21.91" font-weight="bold" fill="#000">0.76</text>
<text class="se" x="1781.19" y="1617.90" font-size="21.91" font-weight="bold" fill="#000">2.06</text>
<text class="se" x="1858.41" y="1617.90" font-size="21.91" font-weight="bold" fill="#000">196.80</text>
</svg></body></html>
